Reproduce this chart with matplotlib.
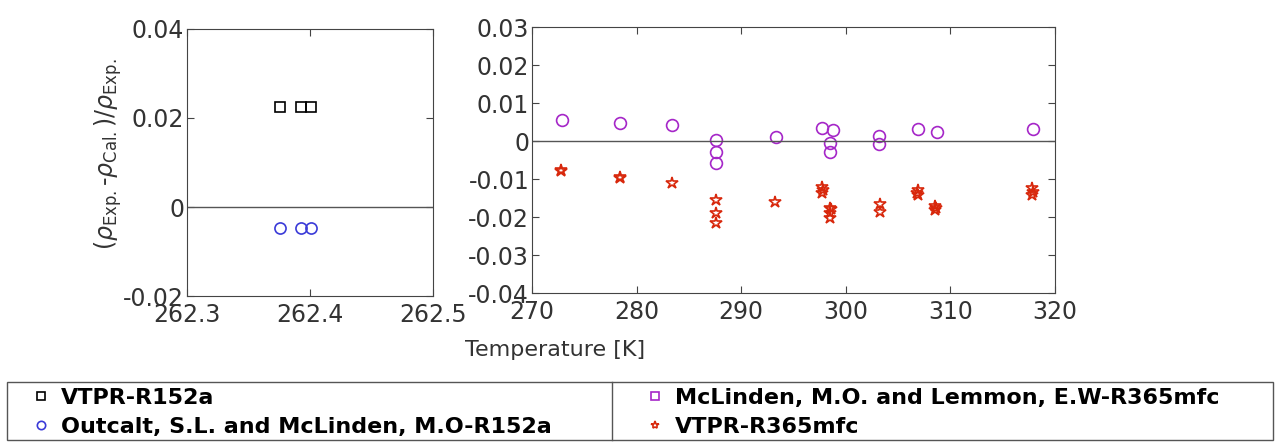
import matplotlib
matplotlib.use("Agg")
import matplotlib.pyplot as plt
from matplotlib.lines import Line2D
from matplotlib.patches import Rectangle

plt.rcParams["font.family"] = ["DejaVu Sans"]
plt.rcParams["mathtext.fontset"] = "dejavusans"

# R152a at a single temperature (left panel)
t_r152a = [262.376, 262.393, 262.401]
dev_vtpr_r152a = [0.0225, 0.0225, 0.0225]
dev_outcalt_r152a = [-0.0047, -0.0047, -0.0047]

# R365mfc, experimental data of McLinden & Lemmon (right panel)
t_mclinden = [272.9, 278.4, 283.4, 287.6, 287.6, 287.6, 293.3, 297.7, 298.8,
              298.5, 298.5, 303.2, 303.2, 306.9, 308.7, 317.9]
dev_mclinden = [0.0055, 0.0048, 0.0041, 0.0003, -0.0028, -0.0059, 0.0011, 0.0033,
                0.0029, -0.0005, -0.0028, 0.0014, -0.0008, 0.0031, 0.0025, 0.0032]

# R365mfc, VTPR deviations
t_vtpr_r365 = [272.8, 272.8, 278.4, 278.4, 283.4, 287.6, 287.6, 287.6, 293.2,
               297.7, 297.7, 297.8, 298.5, 298.5, 298.5, 298.6,
               303.3, 303.3, 306.9, 306.9, 306.8, 308.5, 308.5, 308.6,
               317.8, 317.8, 317.9]
dev_vtpr_r365 = [-0.0076, -0.0078, -0.0095, -0.0097, -0.0110, -0.0155, -0.0190, -0.0216,
                 -0.0160, -0.0122, -0.0138, -0.0130, -0.0176, -0.0189, -0.0202, -0.0180,
                 -0.0166, -0.0188, -0.0129, -0.0142, -0.0136, -0.0171, -0.0182, -0.0176,
                 -0.0124, -0.0142, -0.0133]

C_BLUE = "#3a3ad8"
C_PURPLE = "#a526c8"
C_RED = "#d8280c"

fig = plt.figure(figsize=(12.79, 4.42), dpi=100)
ax1 = fig.add_axes([0.1462, 0.3303, 0.1923, 0.6041])
ax2 = fig.add_axes([0.4159, 0.3371, 0.4089, 0.6018])

ms = dict(linestyle="none", markerfacecolor="none", markeredgewidth=1.2)

ax1.plot(t_r152a, dev_vtpr_r152a, marker="s", markersize=7, color="black", **ms)
ax1.plot(t_r152a, dev_outcalt_r152a, marker="o", markersize=8, color=C_BLUE, **ms)
ax1.axhline(0, color="#555555", linewidth=1)
ax1.set_xlim(262.3, 262.5)
ax1.set_ylim(-0.02, 0.04)
ax1.set_xticks([262.3, 262.4, 262.5])
ax1.set_yticks([-0.02, 0, 0.02, 0.04])
ax1.set_yticklabels(["-0.02", "0", "0.02", "0.04"])
ax1.set_ylabel(r"($\rho_{\rm Exp.}$-$\rho_{\rm Cal.}$)/$\rho_{\rm Exp.}$", fontsize=17,
               color="#333333")
ax1.yaxis.set_label_coords(-0.255, 0.53)

ax2.plot(t_mclinden, dev_mclinden, marker="o", markersize=8.5, color=C_PURPLE, **ms)
ax2.plot(t_vtpr_r365, dev_vtpr_r365, marker="*", markersize=9, color=C_RED, **ms)
ax2.axhline(0, color="#555555", linewidth=1)
ax2.set_xlim(270, 320)
ax2.set_ylim(-0.04, 0.03)
ax2.set_xticks(range(270, 321, 10))
ax2.set_yticks([-0.04, -0.03, -0.02, -0.01, 0, 0.01, 0.02, 0.03])
ax2.set_yticklabels(["-0.04", "-0.03", "-0.02", "-0.01", "0", "0.01", "0.02", "0.03"])

for ax in (ax1, ax2):
    for s in ax.spines.values():
        s.set_color("#444444")
    ax.tick_params(direction="in", top=True, right=True, length=5,
                   labelsize=17, colors="#444444", labelcolor="#333333")
    ax.tick_params(axis="x", pad=5)
    ax.tick_params(axis="y", pad=2)

fig.text(0.434, 0.208, "Temperature [K]", fontsize=16, color="#333333",
         ha="center", va="center")

# legend box split into two columns
fig.add_artist(Rectangle((7 / 1279, 0.005), 1266 / 1279, 0.131, transform=fig.transFigure,
                         fill=False, edgecolor="#555555", linewidth=1))
fig.add_artist(Line2D([612 / 1279, 612 / 1279], [0.005, 0.136], transform=fig.transFigure,
                      color="#555555", linewidth=1))

lg_ms = dict(linestyle="none", markerfacecolor="none", markeredgewidth=1.2, markersize=6)
h_left = [Line2D([], [], marker="s", color="black", **lg_ms),
          Line2D([], [], marker="o", color=C_BLUE, **lg_ms)]
h_right = [Line2D([], [], marker="s", color=C_PURPLE, **lg_ms),
           Line2D([], [], marker="*", color=C_RED, **lg_ms)]
lab_left = ["VTPR-R152a", "Outcalt, S.L. and McLinden, M.O-R152a"]
lab_right = ["McLinden, M.O. and Lemmon, E.W-R365mfc", "VTPR-R365mfc"]

lp = dict(frameon=False, prop={"weight": "bold", "size": 16}, handlelength=0.8,
          handletextpad=0.5, labelspacing=0.4, borderaxespad=0, borderpad=0)
fig.legend(h_left, lab_left, loc="upper left", bbox_to_anchor=(32 / 1279, 0.122), **lp)
fig.legend(h_right, lab_right, loc="upper left", bbox_to_anchor=(646 / 1279, 0.122), **lp)

fig.savefig("out.png", dpi=100)
